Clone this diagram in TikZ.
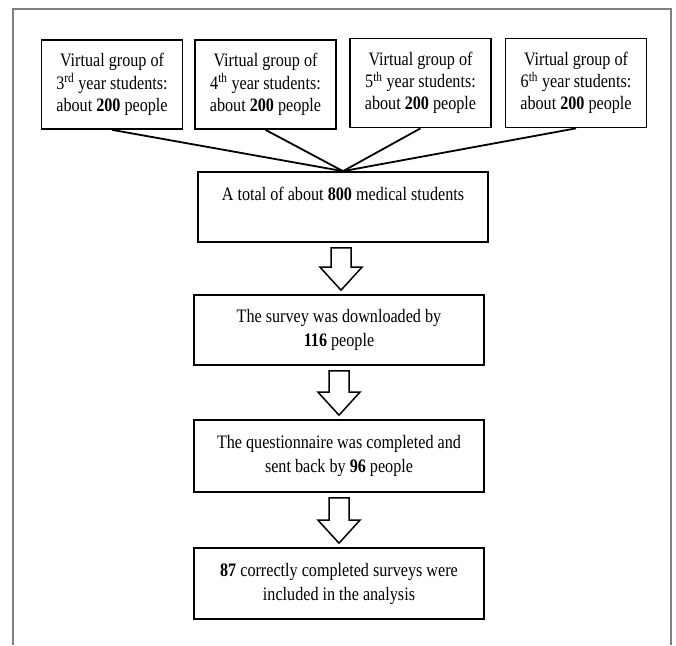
\documentclass[tikz,border=0pt]{standalone}
\usepackage{fontspec}
\setmainfont[FakeStretch=0.85]{Liberation Serif}
\usetikzlibrary{calc}
\begin{document}
\begin{tikzpicture}[x=1pt,y=-1pt]
\tikzset{
  topbox/.style={draw, line width=1.7pt, minimum width=141pt, minimum height=89pt,
    inner sep=0pt, align=center, font=\fontsize{19pt}{22.2pt}\selectfont},
  flowbox/.style={draw, line width=1.7pt, minimum width=290pt, minimum height=70pt,
    inner sep=0pt, align=center, font=\fontsize{19pt}{24pt}\selectfont},
  link/.style={line width=1.8pt},
  blockarrow/.style={draw, line width=1.5pt, fill=white, line join=miter}
}
\newcommand\blockarr[2]{%
  \path let \p1=($(#1.south)!0.5!(#2.north)$), \p2=(#1.south), \p3=(#2.north) in
    [blockarrow] (\x1-10pt,\y2-5pt) -- (\x1+10pt,\y2-5pt) -- (\x1+10pt,\y3+27pt)
    -- (\x1+21pt,\y3+27pt) -- (\x1,\y3+4pt) -- (\x1-21pt,\y3+27pt)
    -- (\x1-10pt,\y3+27pt) -- cycle;}
\useasboundingbox (0,0) rectangle (676,645);
% outer frame
\draw[gray, line width=1.3pt] (13,645) -- (13,9) -- (671,9) -- (671,645);
% top boxes
\node[topbox] (g3) at (112,84.5) {Virtual group of\\3\textsuperscript{rd} year students:\\about \textbf{200} people};
\node[topbox] (g4) at (265.5,84.5) {Virtual group of\\4\textsuperscript{th} year students:\\about \textbf{200} people};
\node[topbox] (g5) at (420.5,83) {Virtual group of\\5\textsuperscript{th} year students:\\about \textbf{200} people};
\node[topbox] (g6) at (576,83) {Virtual group of\\6\textsuperscript{th} year students:\\about \textbf{200} people};
% main boxes
\node[flowbox, align=none, text height=13pt, text depth=27pt] (total) at (343,207) {A total of about \textbf{800} medical students};
\node[flowbox] (down) at (339,330) {The survey was downloaded by\\\textbf{116} people};
\node[flowbox, minimum height=72pt] (sent) at (339,456) {The questionnaire was completed and\\sent back by \textbf{96} people};
\node[flowbox, minimum height=71pt] (incl) at (339,583.5) {\textbf{87} correctly completed surveys were\\included in the analysis};
% connectors
\foreach \g in {g3,g4,g5,g6} \draw[link] (\g.south) -- (total.north);
\blockarr{total}{down}
\blockarr{down}{sent}
\blockarr{sent}{incl}
\end{tikzpicture}
\end{document}
